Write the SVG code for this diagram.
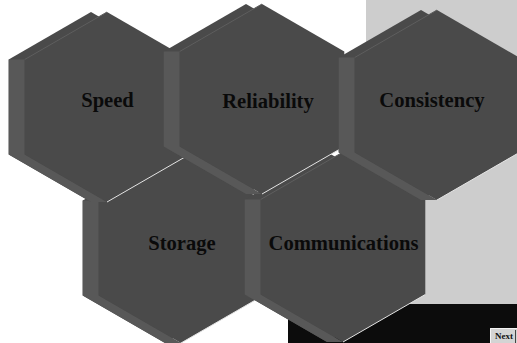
<svg xmlns="http://www.w3.org/2000/svg" width="517" height="343" viewBox="0 0 517 343">
<style>
.face{fill:#4a4a4a}
.side{fill:#585858}
.hl{stroke:#5e5e5e;stroke-width:1;fill:none}
.edge{stroke:#e4e4e4;stroke-width:1;fill:none}
.lbl{font-family:"Liberation Serif","Times New Roman",serif;font-weight:bold;font-size:20.6px;fill:#0a0a0a;text-anchor:middle}
</style>
<defs>
<g id="hex">
<polygon class="face" points="-16,-95 66.3,-47.5 66.3,47.5 -16,95 -98.3,47.5 -98.3,-47.5"/>
<polygon class="side" points="-98.3,-47.5 -82.3,-47.5 -82.3,47.5 0,95 -16,95 -98.3,47.5"/>
<polygon class="face" points="0,-95 82.3,-47.5 82.3,47.5 0,95 -82.3,47.5 -82.3,-47.5"/>
<line class="hl" x1="-82.3" y1="-47.5" x2="0" y2="-95"/>
<line class="edge" x1="0" y1="95" x2="82.3" y2="47.5"/>
</g>
</defs>
<rect x="0" y="0" width="517" height="343" fill="#ffffff"/>
<rect x="366" y="0" width="151" height="304" fill="#cdcdcd"/>
<rect x="288" y="304" width="229" height="39" fill="#0c0c0c"/>
<g id="storage">
<use href="#hex" x="181" y="248"/>
<text class="lbl" x="182" y="250">Storage</text>
</g>
<g id="communications">
<use href="#hex" x="343" y="247"/>
<text class="lbl" x="343.5" y="250">Communications</text>
</g>
<g id="speed">
<use href="#hex" x="107" y="107"/>
<text class="lbl" x="107.5" y="107">Speed</text>
</g>
<g id="reliability">
<use href="#hex" x="262" y="99"/>
<text class="lbl" x="268" y="108">Reliability</text>
</g>
<g id="consistency">
<use href="#hex" x="437" y="105"/>
<text class="lbl" x="432" y="107">Consistency</text>
</g>
<g id="connectors"></g>
<g id="next-button">
<rect x="490" y="328" width="27" height="15" fill="#d4d4d4"/>
<polyline points="490.5,343 490.5,328.5 517,328.5" fill="none" stroke="#f4f4f4" stroke-width="1"/>
<text x="495" y="339" font-family="Liberation Serif, serif" font-weight="bold" font-size="9" fill="#111">Next</text>
<line x1="515.5" y1="330" x2="515.5" y2="343" stroke="#444" stroke-width="1"/>
</g>
</svg>
